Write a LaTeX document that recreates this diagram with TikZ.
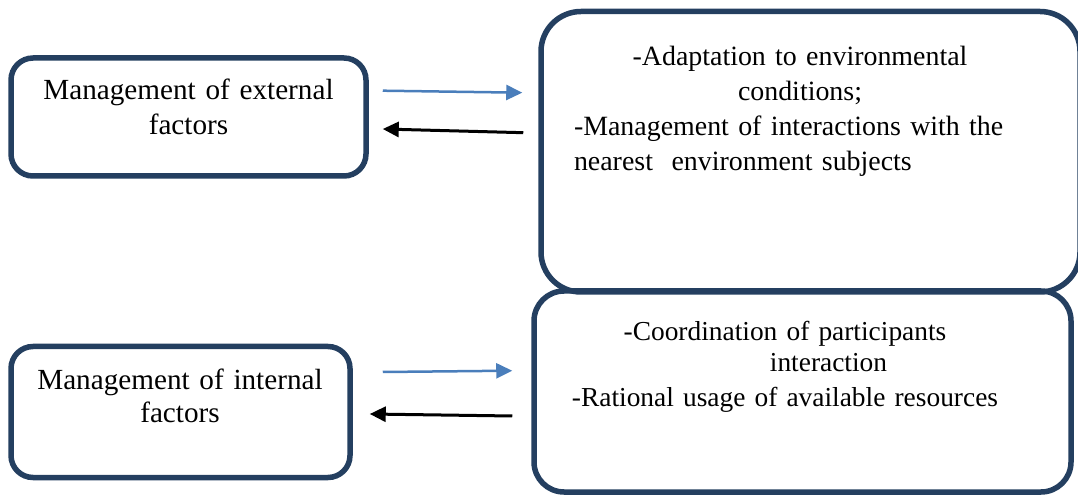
\documentclass[tikz,border=0pt]{standalone}
\usepackage{fontspec}
\setmainfont{Liberation Serif}
\usetikzlibrary{arrows.meta}
\definecolor{navy}{HTML}{243F60}
\definecolor{accentblue}{HTML}{4A7EBB}
\tikzset{
  box/.style={draw=navy, line width=5.5pt, inner sep=0pt, fill=none},
  smallbox/.style={box, rounded corners=22pt},
  txt/.style={inner sep=0pt, outer sep=0pt},
  bluearrow/.style={draw=accentblue, line width=2.5pt,
    -{Triangle[length=16pt,width=15pt]}},
  blackarrow/.style={draw=black, line width=3pt,
    -{Triangle[length=16pt,width=15pt]}}
}
\begin{document}
\begin{tikzpicture}[x=1pt, y=1pt]
\useasboundingbox (0,0) rectangle (1078,495);

% left-hand boxes
\node[smallbox, minimum width=355pt, minimum height=118pt] (ext) at (188.5,378) {};
\node[smallbox, minimum width=339pt, minimum height=131pt] (int) at (180.5,83) {};

% right-hand boxes
\node[box, rounded corners=40pt, minimum width=539pt, minimum height=280.5pt] (adapt) at (810.5,343.25) {};
\node[box, rounded corners=30pt, minimum width=537pt, minimum height=201pt] (coord) at (802.5,103.5) {};

% box texts
\node[txt, text width=340pt, anchor=base, font=\fontsize{29.2}{34.3}\selectfont]
  (extT) at (188.5,395) {\centering Management of external\\ factors\par};
\node[txt, text width=340pt, anchor=base, font=\fontsize{29.2}{33}\selectfont]
  (intT) at (180,105) {\centering Management of internal\\ factors\par};
\node[txt, text width=452pt, anchor=base west, font=\fontsize{27.9}{35}\selectfont]
  (adaptT) at (574,429.3) {\centering -Adaptation to environmental\\ conditions;\par
  \raggedright -Management of interactions with the\\ nearest\ \ environment subjects\par};
\node[txt, text width=480pt, anchor=base, font=\fontsize{27.4}{35}\selectfont]
  (coordT) at (785,154) {\centering -Coordination of participants\\[-4.3pt]
  \hspace*{87pt}interaction\\ -Rational usage of available resources\par};

% connector end points
\coordinate (e1) at ([shift={(14,26.3)}]ext.east);
\coordinate (a1) at ([shift={(-16,59.05)}]adapt.west);
\coordinate (a2) at ([shift={(-15,19.05)}]adapt.west);
\coordinate (e2) at ([shift={(14,-12)}]ext.east);
\coordinate (i1) at ([shift={(30,40)}]int.east);
\coordinate (c1) at ([shift={(-19,20.8)}]coord.west);
\coordinate (c2) at ([shift={(-19,-24.5)}]coord.west);
\coordinate (i2) at ([shift={(17,-2)}]int.east);

% connectors
\draw[bluearrow] (e1) -- (a1);
\draw[blackarrow] (a2) -- (e2);
\draw[bluearrow] (i1) -- (c1);
\draw[blackarrow] (c2) -- (i2);
\end{tikzpicture}
\end{document}
